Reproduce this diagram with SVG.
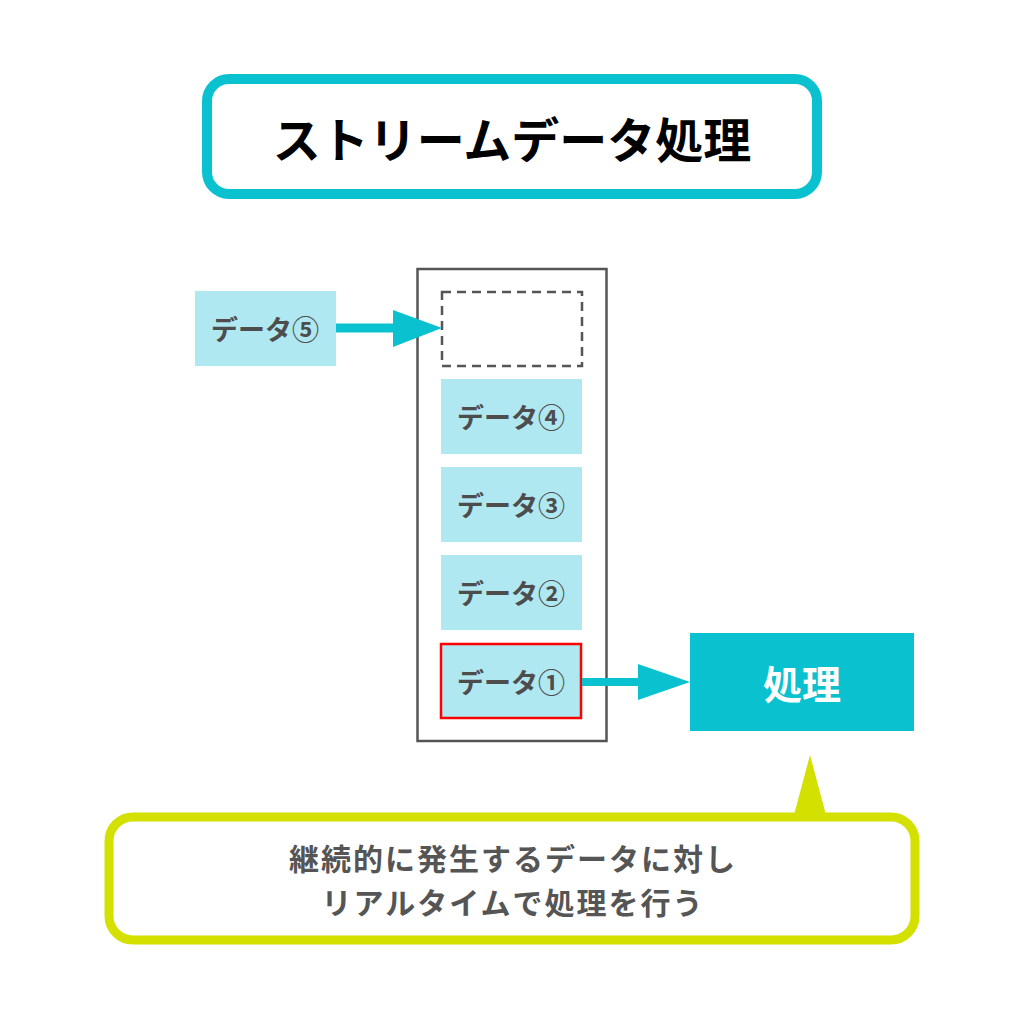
<svg xmlns="http://www.w3.org/2000/svg" width="1024" height="1024" viewBox="0 0 1024 1024">
<defs>
<style>
.t{font-family:"Noto Sans CJK JP","Noto Sans",sans-serif;font-weight:bold;text-anchor:middle;dominant-baseline:central}
.data{fill:#b0e8f2}
.dt{font-size:27px;fill:#4d4d4d}
.ct{font-size:30px;fill:#555;letter-spacing:2px}
</style>
</defs>
<rect width="1024" height="1024" fill="#fff"/>
<g id="title">
<rect x="207" y="79" width="610" height="115" rx="22" fill="#fff" stroke="#0ac2cf" stroke-width="10"/>
<text class="t" x="512" y="137" font-size="48" fill="#000">ストリームデータ処理</text>
</g>
<g id="queue">
<rect x="417.5" y="269" width="189" height="472" fill="#fff" stroke="#555" stroke-width="2.5"/>
</g>
<g id="slot-empty">
<rect x="442" y="292" width="140" height="74" fill="#fff" stroke="#555" stroke-width="2.5" stroke-dasharray="9,6"/>
</g>
<g id="data5">
<rect class="data" x="195" y="291" width="141" height="75"/>
<text class="t dt" x="265" y="328">データ⑤</text>
</g>
<g id="data4">
<rect class="data" x="441" y="379" width="141" height="75"/>
<text class="t dt" x="511" y="416">データ④</text>
</g>
<g id="data3">
<rect class="data" x="441" y="467" width="141" height="75"/>
<text class="t dt" x="511" y="504">データ③</text>
</g>
<g id="data2">
<rect class="data" x="441" y="555" width="141" height="75"/>
<text class="t dt" x="511" y="592">データ②</text>
</g>
<g id="data1">
<rect class="data" x="441" y="644" width="140" height="74" stroke="#ff0000" stroke-width="2.5"/>
<text class="t dt" x="511" y="681">データ①</text>
</g>
<g id="process">
<rect x="690" y="633" width="224" height="98" fill="#0ac2cf"/>
<text class="t" x="802" y="682" font-size="39" fill="#fff">処理</text>
</g>
<g id="connectors">
<line x1="336" y1="328" x2="396" y2="328" stroke="#0ac2cf" stroke-width="9"/>
<polygon points="393,310 442,328 393,347" fill="#0ac2cf"/>
<line x1="582" y1="682" x2="640" y2="682" stroke="#0ac2cf" stroke-width="8"/>
<polygon points="638,664 690,682 638,700" fill="#0ac2cf"/>
</g>
<g id="callout">
<polygon points="794,815 810,755 826,815" fill="#d4e000"/>
<rect x="109" y="817" width="806" height="123" rx="24" fill="#fff" stroke="#d4e000" stroke-width="9"/>
<text class="t ct" x="513" y="857">継続的に発生するデータに対し</text>
<text class="t ct" x="513" y="901">リアルタイムで処理を行う</text>
</g>
</svg>
